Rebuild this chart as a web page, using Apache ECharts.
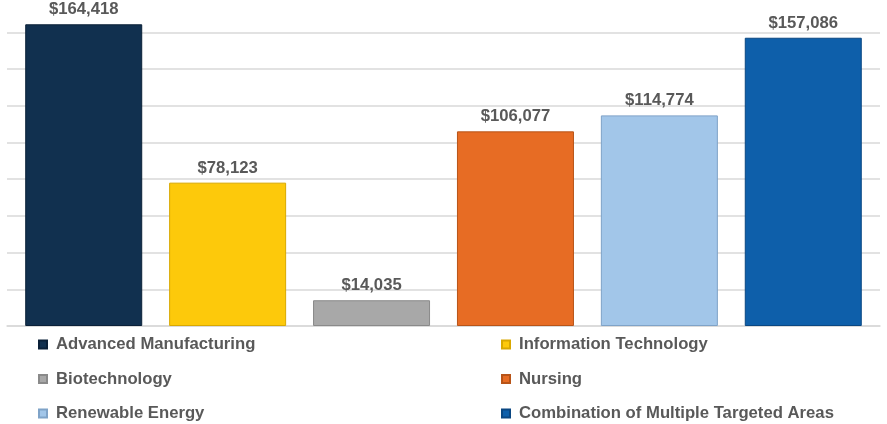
<!DOCTYPE html>
<html>
<head>
<meta charset="utf-8">
<script src="https://cdn.jsdelivr.net/npm/echarts@6/dist/echarts.min.js"></script>
<style>html,body{margin:0;padding:0;background:#fff}#c{width:887px;height:424px}</style>
</head>
<body>
<div id="c"></div>
<script>
const seriesNames = ['Advanced Manufacturing','Information Technology','Biotechnology','Nursing','Renewable Energy','Combination of Multiple Targeted Areas'];
const seriesValues = [164418, 78123, 14035, 106077, 114774, 157086];
const seriesColors = ['#11304F','#FDC90B','#A8A8A8','#E76C24','#A2C6E9','#0E5FAA'];
const borderColors = ['#0A2038','#D9A800','#8A8A8A','#B85418','#7FA3C8','#0A4782'];
const categories = [''];

const chart = echarts.init(document.getElementById('c'), null, {renderer:'canvas'});
const series = seriesNames.map((n,i)=>({
  name: n,
  type: 'bar',
  data: [seriesValues[i]],
  barWidth: 117,
  barGap: '23%',
  clip: false,
  itemStyle: {color: seriesColors[i], borderColor: borderColors[i], borderWidth: 1},
  label: {
    show: true, position: 'top', distance: 6,
    formatter: p => '$' + p.value.toLocaleString('en-US'),
    fontFamily: 'Liberation Sans, Arial, sans-serif', fontWeight: 'bold', fontSize: 16.7, color: '#595959'
  }
}));
const legendText = {fontFamily: 'Liberation Sans, Arial, sans-serif', fontWeight: 'bold', fontSize: 16.7, color: '#595959', padding: [0,0,0,4]};
chart.setOption({
  animation: false,
  grid: {left: 7, right: 7, top: 32.4, bottom: 98, containLabel: false},
  xAxis: {type: 'category', data: categories, axisLine: {show: true, lineStyle: {color: '#D9D9D9', width: 1.5}}, axisTick: {show: false}, axisLabel: {show: false}},
  yAxis: {type: 'value', min: 0, max: 160000, interval: 20000, axisLabel: {show: false}, axisLine: {show: false}, axisTick: {show: false},
    splitLine: {lineStyle: {color: '#D9D9D9', width: 1.5}}},
  legend: [
    {orient: 'vertical', left: 38, top: 336, height: 88, padding: 0, itemWidth: 8, itemHeight: 8, itemGap: 17.5, icon: 'rect',
     data: [seriesNames[0], seriesNames[2], seriesNames[4]], textStyle: legendText, selectedMode: false},
    {orient: 'vertical', left: 501, top: 336, height: 88, padding: 0, itemWidth: 8, itemHeight: 8, itemGap: 17.5, icon: 'rect',
     data: [seriesNames[1], seriesNames[3], seriesNames[5]], textStyle: legendText, selectedMode: false}
  ],
  series: series
});
</script>
</body>
</html>
